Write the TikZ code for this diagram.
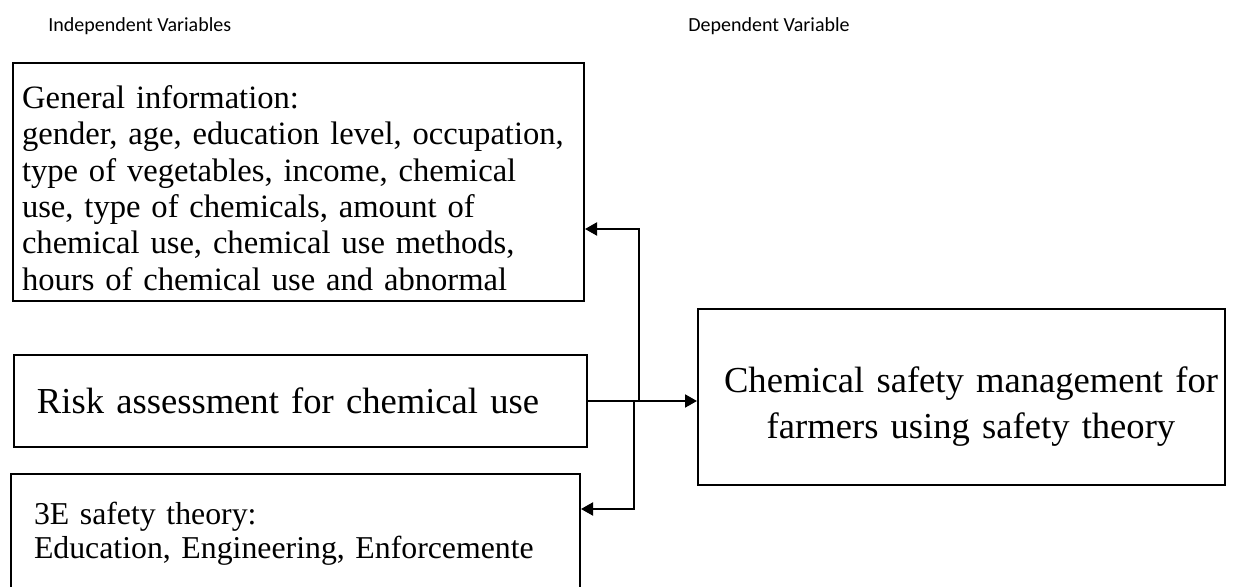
\documentclass[tikz,border=0pt]{standalone}
\usepackage{fontspec}
\setmainfont{Liberation Serif}
\newfontfamily\headfont{Carlito}
\usetikzlibrary{positioning}
\usetikzlibrary{arrows.meta}

\begin{document}
\begin{tikzpicture}[x = 0.5pt, y = -0.5pt,
varbox/.style = {draw, line width = 1pt, anchor = north west, inner ysep = 0pt},
infotext/.style = {font = \fontsize{16.3}{18.2}\selectfont},
theorytext/.style = {font = \fontsize{15.9}{17}\selectfont},
bigtext/.style = {font = \fontsize{18.3}{23}\selectfont},
head/.style = {font = \headfont\fontsize{10}{12}\selectfont, anchor = west, inner sep = 0pt},
link/.style = {line width = 1pt, -{Triangle[length = 6pt, width = 6.5pt]}},
]
\useasboundingbox (0, 0) rectangle (1239, 587);

\node[head] (indep) at (48, 26) {Independent Variables};
\node[head] (dep) at (688, 26) {Dependent Variable};

\node[varbox, infotext, minimum width = 285.5pt, minimum height = 119pt, inner xsep = 4.5pt, text width = 276.5pt, align = left] (info) at (12, 62)
{\rule{0pt}{17.5pt}General information:\\ gender, age, education level, occupation,\\ type of vegetables, income, chemical\\ use, type of chemicals, amount of\\ chemical use, chemical use methods,\\ hours of chemical use and abnormal};

\node[varbox, bigtext, minimum width = 286.5pt, minimum height = 46pt, inner xsep = 11.5pt, text width = 263.5pt, align = left] (risk) at (13, 354) {Risk assessment for chemical use};

\node[varbox, theorytext, minimum width = 284.5pt, minimum height = 59.5pt, inner xsep = 11.5pt, text width = 261.5pt, align = left] (theory) at (10, 473)
{3E safety theory:\\ Education, Engineering, Enforcemente};

\node[varbox, bigtext, minimum width = 263.5pt, minimum height = 88pt, inner xsep = 2pt, text width = 259.5pt, align = center] (safety) at (697, 308)
{\rule{0pt}{22pt}\hspace*{9.5pt}Chemical safety management for\\ \hspace*{9.5pt}farmers using safety theory};

\coordinate (up) at (639, 229);
\coordinate (down) at (634, 509);

\draw[link] (risk.east) -- (risk.east -| safety.west);
\draw[link] (up |- risk.east) -- (up) -- (up -| info.east);
\draw[link] (down |- risk.east) -- (down) -- (down -| theory.east);
\end{tikzpicture}
\end{document}
